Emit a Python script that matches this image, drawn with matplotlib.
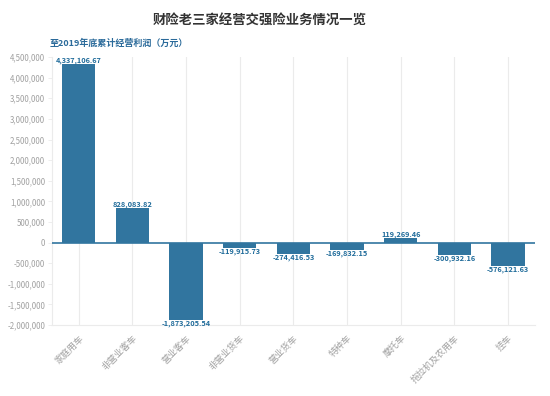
import matplotlib
matplotlib.use("Agg")
import matplotlib.pyplot as plt
from matplotlib.ticker import FuncFormatter, MultipleLocator

plt.rcParams['font.family'] = ['Noto Sans CJK SC', 'DejaVu Sans']

categories = ["家庭用车", "非营业客车", "营业客车", "非营业货车", "营业货车", "特种车", "摩托车", "拖拉机及农用车", "挂车"]
values = [4337106.67, 828083.82, -1873205.54, -119915.73, -274416.53, -169832.15, 119269.46, -300932.16, -576121.63]

title = "财险老三家经营交强险业务情况一览"
subtitle = "至2019年底累计经营利润（万元）"

bar_color = "#31759f"
label_color = "#1f6b9a"
tick_color = "#a0a0a0"
grid_color = "#ebebeb"

fig = plt.figure(figsize=(5.5, 3.96), dpi=100)
ax = fig.add_axes([0.0945, 0.179, 0.878, 0.677])

x = list(range(len(categories)))
ax.bar(x, values, width=0.62, color=bar_color, zorder=3)
ax.axhline(0, color=bar_color, lw=1.2, zorder=4)

for xi, v in zip(x, values):
    txt = f"{v:,.2f}"
    ax.text(xi, v, txt, ha='center', va='bottom' if v >= 0 else 'top',
            fontsize=5.3, fontweight='bold', color=label_color, zorder=5)

ax.set_xlim(-0.5, len(categories) - 0.5)
ax.set_ylim(-2000000, 4500000)
ax.yaxis.set_major_locator(MultipleLocator(500000))
ax.yaxis.set_major_formatter(FuncFormatter(lambda v, p: f"{int(v):,}"))
ax.set_xticks(x)
ax.set_xticklabels(categories, rotation=45, ha='right', rotation_mode='anchor')

ax.tick_params(axis='y', labelsize=5.7, colors=tick_color, length=3, width=0.6, pad=2)
ax.tick_params(axis='x', labelsize=6.5, colors=tick_color, length=0, pad=6)
for lab in ax.get_xticklabels():
    lab.set_color(tick_color)

ax.grid(axis='x', color=grid_color, lw=0.8, zorder=0)
ax.grid(axis='y', visible=False)
for s in ['top', 'right']:
    ax.spines[s].set_visible(False)
ax.spines['left'].set_color(grid_color)
ax.spines['bottom'].set_color(grid_color)
ax.spines['left'].set_linewidth(0.8)
ax.spines['bottom'].set_linewidth(0.8)
ax.tick_params(axis='y', color=grid_color)

fig.text(0.473, 0.950, title, ha='center', va='center', fontsize=9.6, fontweight='bold', color='#333333')
fig.text(0.090, 0.890, subtitle, ha='left', va='center', fontsize=6.5, fontweight='bold', color='#2a6a9a')

fig.savefig("out.png", dpi=100)
